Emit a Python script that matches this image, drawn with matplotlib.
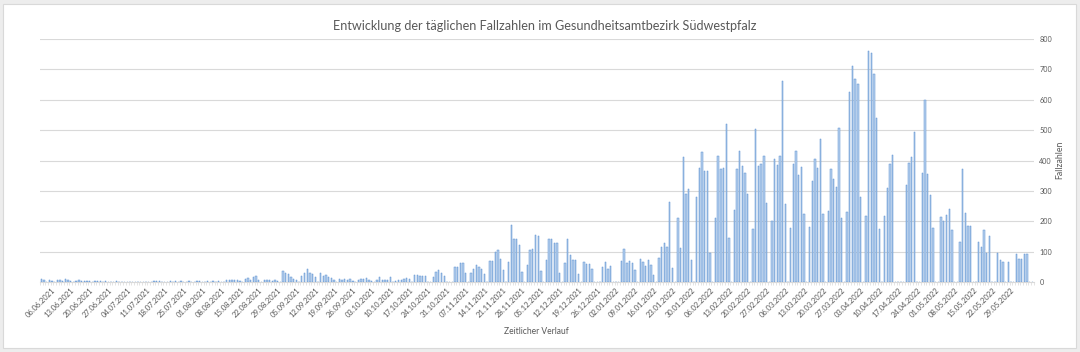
import matplotlib
matplotlib.use('Agg')
import matplotlib.pyplot as plt
import numpy as np
import pandas as pd
from matplotlib.patches import Rectangle

# ---------------- data (daily case numbers, 0 = no report) ----------------
start_date = '2021-06-01'
cases_2021_06 = [11, 8, 0, 7, 4, 0, 5, 6, 4, 10, 6, 3, 0, 4, 5, 3, 4, 3, 2, 0,
                 2, 3, 2, 1, 2, 1, 0, 1, 2, 1]
cases_2021_07 = [1, 1, 0, 0, 1, 1, 0, 1, 1, 0, 0, 1, 2, 4, 2, 1, 0, 0, 2, 1,
                 3, 1, 2, 0, 0, 2, 1, 1, 3, 2, 0]
cases_2021_08 = [0, 2, 1, 2, 1, 2, 1, 0, 7, 6, 7, 5, 6, 3, 0, 11, 14, 8, 18, 20,
                 6, 0, 5, 6, 8, 4, 7, 3, 0, 37, 29]
cases_2021_09 = [25, 18, 10, 5, 0, 20, 29, 42, 29, 25, 15, 0, 31, 21, 23, 18, 14, 6, 0, 9,
                 7, 10, 8, 11, 4, 0, 7, 11, 9, 12]
cases_2021_10 = [8, 4, 0, 5, 16, 7, 5, 8, 15, 0, 4, 7, 5, 10, 12, 10, 0, 23, 23, 21,
                 20, 20, 0, 0, 18, 32, 40, 29, 21, 0, 0]
cases_2021_11 = [0, 49, 50, 61, 61, 29, 0, 29, 44, 56, 49, 42, 26, 0, 70, 70, 99, 104, 75, 38,
                 0, 67, 188, 143, 143, 121, 33, 0, 56, 105]
cases_2021_12 = [108, 154, 150, 35, 0, 72, 142, 142, 127, 127, 29, 0, 64, 142, 89, 72, 72, 25, 0, 65,
                 59, 59, 42, 0, 0, 0, 50, 65, 42, 53, 0]
cases_2022_01 = [0, 0, 70, 109, 61, 70, 61, 40, 0, 75, 66, 54, 72, 56, 23, 0, 78, 116, 127, 116,
                 262, 46, 0, 210, 111, 412, 290, 305, 72, 0, 279]
cases_2022_02 = [375, 429, 366, 366, 94, 0, 210, 415, 373, 376, 520, 146, 0, 237, 373, 431, 382, 360, 291, 0,
                 176, 503, 381, 389, 415, 261, 0, 201]
cases_2022_03 = [406, 384, 415, 663, 256, 0, 178, 387, 431, 351, 380, 224, 0, 181, 334, 405, 375, 472, 224, 0,
                 235, 371, 339, 313, 506, 212, 0, 232, 627, 711, 668]
cases_2022_04 = [651, 281, 0, 217, 761, 753, 685, 539, 173, 0, 218, 311, 389, 419, 0, 0, 0, 0, 319, 392,
                 412, 494, 0, 0, 358, 600, 356, 288, 178, 0]
cases_2022_05 = [0, 214, 202, 222, 240, 171, 0, 0, 131, 371, 227, 184, 184, 0, 0, 133, 116, 171, 97, 150,
                 0, 0, 94, 74, 65, 0, 67, 0, 0, 91, 77]
cases_2022_06 = [77, 91, 91, 0, 0]

first_label_date = '2021-06-06'
last_label_date = '2022-05-29'
y_ticks = [0, 100, 200, 300, 400, 500, 600, 700, 800]

title = 'Entwicklung der täglichen Fallzahlen im Gesundheitsamtbezirk Südwestpfalz'
x_title = 'Zeitlicher Verlauf'
y_title = 'Fallzahlen'

cases = (cases_2021_06 + cases_2021_07 + cases_2021_08 + cases_2021_09 + cases_2021_10 +
         cases_2021_11 + cases_2021_12 + cases_2022_01 + cases_2022_02 + cases_2022_03 +
         cases_2022_04 + cases_2022_05 + cases_2022_06)
dates = pd.date_range(start_date, periods=len(cases), freq='D')
label_dates = pd.date_range(first_label_date, last_label_date, freq='7D')
label_pos = [dates.get_loc(d) for d in label_dates]
label_txt = [d.strftime('%d.%m.%Y') for d in label_dates]

# ---------------- figure ----------------
plt.rcParams['font.family'] = ['Lato', 'DejaVu Sans']
TXT = '#595959'
W, H = 1080, 352
fig = plt.figure(figsize=(W / 100, H / 100), dpi=100)
fig.patch.set_facecolor('#ededed')
fig.patches.append(Rectangle((3 / W, 4 / H), 1073 / W, 344 / H, transform=fig.transFigure,
                             facecolor='white', edgecolor='#d9d9d9', lw=0.8, zorder=-10))
renderer = fig.canvas.get_renderer()


def fit_size(s, target_px, base=10):
    t = fig.text(0, 0, s, fontsize=base)
    w = t.get_window_extent(renderer).width
    t.remove()
    return base * target_px / w


left_px, right_px, top_px, bottom_px = 39.9, 1033.8, 39, 282
ax = fig.add_axes([left_px / W, (H - bottom_px) / H, (right_px - left_px) / W,
                   (bottom_px - top_px) / H])
ax.set_facecolor('none')

x = np.arange(len(cases))
ax.bar(x, cases, width=0.5, color='#b7d0ee', edgecolor='#5a8fcf', linewidth=0.35, zorder=3)
ax.set_xlim(-0.5, len(cases) - 0.5)
ax.set_ylim(0, 800)
ax.set_yticks(y_ticks)
ax.yaxis.tick_right()
ax.grid(axis='y', color='#d9d9d9', lw=0.8, zorder=0)
ax.set_axisbelow(True)
for s in ['top', 'left', 'right']:
    ax.spines[s].set_visible(False)
ax.spines['bottom'].set_color('#d9d9d9')
ax.spines['bottom'].set_linewidth(0.8)

ysz = fit_size('800', 12.5)
ax.tick_params(axis='y', length=0, pad=4, labelsize=ysz, labelcolor=TXT)

xsz = fit_size('06.06.2021', 39)
ax.set_xticks(label_pos)
ax.set_xticklabels(label_txt, rotation=45, ha='right', va='center',
                   rotation_mode='anchor', fontsize=xsz, color=TXT)
ax.tick_params(axis='x', which='major', length=0, pad=5)
ax.set_xticks(np.arange(-0.5, len(cases), 1), minor=True)
ax.tick_params(axis='x', which='minor', length=2, width=0.5, color='#d9d9d9')

fig.text(545 / W, 1 - 26 / H, title, ha='center', va='center',
         fontsize=fit_size(title, 424), color=TXT)
fig.text(536 / W, 1 - 332 / H, x_title, ha='center', va='center',
         fontsize=fit_size(x_title, 65), color=TXT)
fig.text(1060 / W, 1 - 160 / H, y_title, ha='center', va='center', rotation=90,
         fontsize=fit_size(y_title, 38), color=TXT)

fig.savefig('out.png', dpi=100, facecolor=fig.get_facecolor())
